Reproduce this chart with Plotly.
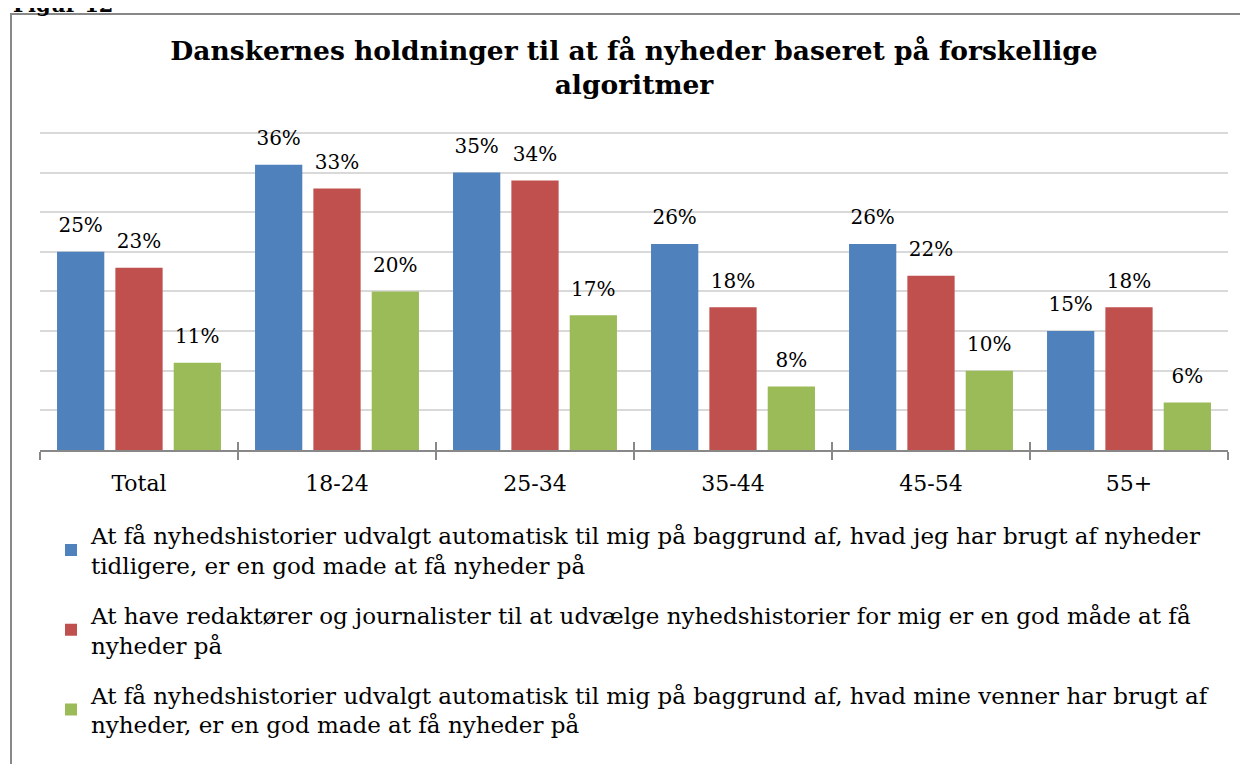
import plotly.graph_objects as go

categories = ["Total", "18-24", "25-34", "35-44", "45-54", "55+"]
auto_own = [0.25, 0.36, 0.35, 0.26, 0.26, 0.15]
editors = [0.23, 0.33, 0.34, 0.18, 0.22, 0.18]
auto_friends = [0.11, 0.20, 0.17, 0.08, 0.10, 0.06]

series_names = [
    "At få nyhedshistorier udvalgt automatisk til mig på baggrund af, hvad jeg har brugt af nyheder<br>tidligere, er en god made at få nyheder på",
    "At have redaktører og journalister til at udvælge nyhedshistorier for mig er en god måde at få<br>nyheder på",
    "At få nyhedshistorier udvalgt automatisk til mig på baggrund af, hvad mine venner har brugt af<br>nyheder, er en god made at få nyheder på",
]
series_values = [auto_own, editors, auto_friends]
colors = ["#4F81BD", "#C0504D", "#9BBB59"]

FONT = "DejaVu Serif"
GAP = 0.116
PLOT_H = 321  # px for range 0..0.405

fig = go.Figure()
for i, (name, vals, col) in enumerate(zip(series_names, series_values, colors)):
    fig.add_trace(go.Bar(
        x=categories, y=vals, name=name,
        marker=dict(color=col, line=dict(width=0)),
        offsetgroup=f"s{i}", legendgroup=f"g{i}",
        hoverinfo="skip",
    ))
# data labels, grouped like the bars
for i, vals in enumerate(series_values):
    fig.add_trace(go.Scatter(
        x=categories, y=vals, mode="markers+text",
        text=[f"{round(v*100)}%" for v in vals],
        textposition="top center",
        textfont=dict(family=FONT, size=20, color="black"),
        marker=dict(size=22, color="rgba(0,0,0,0)"),
        offsetgroup=f"s{i}", showlegend=False, hoverinfo="skip",
        cliponaxis=False,
    ))

# helper overlay axis for the upper half of crossing tick marks
fig.add_trace(go.Scatter(x=[None], y=[None], xaxis="x2", showlegend=False, hoverinfo="skip"))

fig.update_layout(
    width=1240, height=756,
    paper_bgcolor="white", plot_bgcolor="white",
    margin=dict(l=32, r=20, t=121, b=314, autoexpand=False),
    barmode="group", bargap=GAP, bargroupgap=0.19,
    scattermode="group", scattergap=GAP,
    font=dict(family=FONT, color="black"),
    title=dict(
        text="<b>Danskernes holdninger til at få nyheder baseret på forskellige<br>algoritmer</b>",
        font=dict(family=FONT, size=26.5, color="black"),
        x=0.5, xref="paper", xanchor="center",
        y=0.9313, yref="container", yanchor="top",
    ),
    xaxis=dict(
        type="category", showgrid=False,
        showline=True, linecolor="#888888", linewidth=1.5,
        ticks="outside", tickson="boundaries", ticklen=8, tickcolor="#888888", tickwidth=1.5,
        tickfont=dict(family=FONT, size=22, color="black"),
        ticklabelstandoff=13,
        range=[-0.5, 5.5],
    ),
    xaxis2=dict(
        overlaying="x", anchor="y", side="bottom",
        range=[-0.5, 5.5], tickvals=[-0.5, 0.5, 1.5, 2.5, 3.5, 4.5, 5.5],
        ticks="inside", ticklen=8, tickcolor="#888888", tickwidth=1.5,
        showticklabels=False, showgrid=False, showline=False, zeroline=False,
    ),
    yaxis=dict(
        range=[0, 0.405], dtick=0.05, showgrid=True, gridcolor="#D9D9D9", gridwidth=1.5,
        showticklabels=False, zeroline=False, showline=False, ticks="",
    ),
    legend=dict(
        orientation="v", x=0.00926, xanchor="left", y=-0.2006 * 317 / PLOT_H, yanchor="top",
        font=dict(family=FONT, size=23, color="black"),
        tracegroupgap=17, bgcolor="rgba(0,0,0,0)",
        itemclick=False,
    ),
    showlegend=True,
)

# outer frame of the figure (partly outside the visible page)
fig.add_shape(type="rect", xref="paper", yref="paper",
              x0=-0.0244, x1=1.05, y0=-1.2, y1=1 + 115 / PLOT_H,
              line=dict(color="#888888", width=2), fillcolor="rgba(0,0,0,0)", layer="below")

# caption above the frame, mostly cut off at the page top
fig.add_annotation(text="<b>Figur 12</b>", xref="paper", yref="paper",
                   x=-0.0244, y=1 + 110 / PLOT_H, xanchor="left", yanchor="bottom",
                   showarrow=False, font=dict(family=FONT, size=21, color="black"))

fig.write_html("out.html")
